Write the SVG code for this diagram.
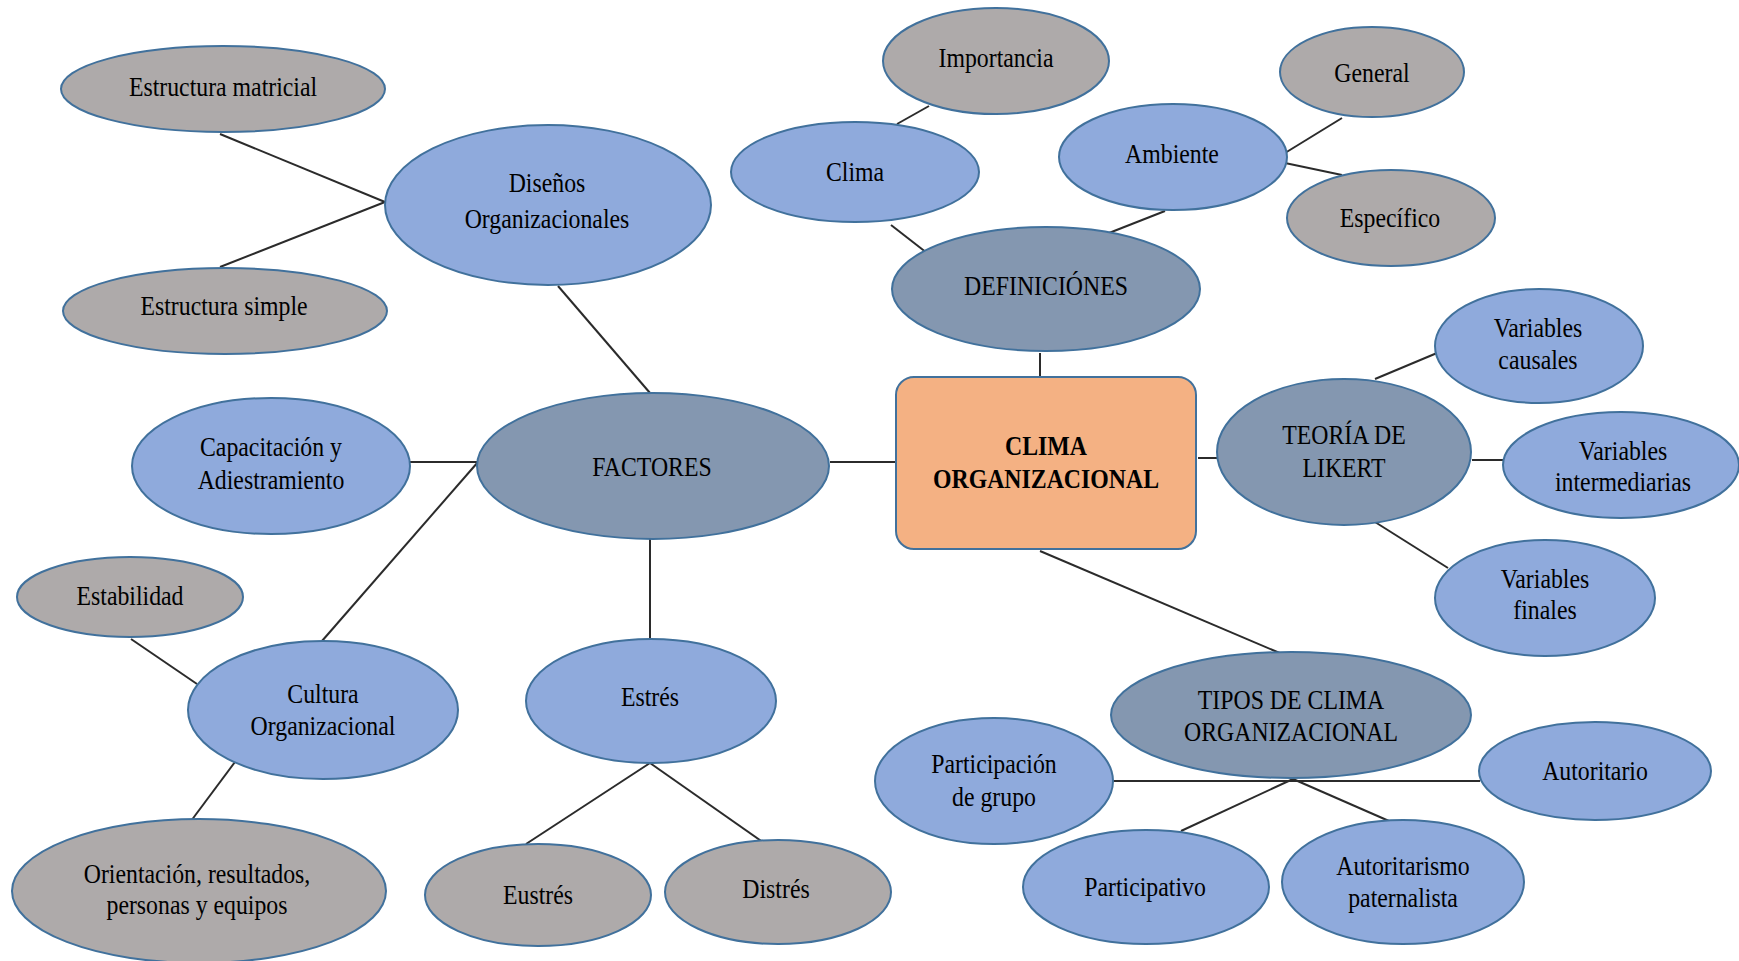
<svg xmlns="http://www.w3.org/2000/svg" width="1739" height="961" viewBox="0 0 1739 961">
<style>
.b{fill:#8FAADC;stroke:#41719C;stroke-width:2}
.g{fill:#AEAAAA;stroke:#41719C;stroke-width:2}
.d{fill:#8497B0;stroke:#41719C;stroke-width:2}
.o{fill:#F4B183;stroke:#41719C;stroke-width:2}
text{font-family:"Liberation Serif","Times New Roman",serif;font-size:28px;fill:#000;text-anchor:middle}
.bold{font-weight:bold}
#connectors line{stroke:#2b2b2b;stroke-width:2}
</style>
<rect width="1739" height="961" fill="#fff"/>
<g id="connectors">
<line x1="220" y1="134" x2="385" y2="202"/>
<line x1="220" y1="267" x2="385" y2="202"/>
<line x1="558" y1="286" x2="650" y2="393"/>
<line x1="410" y1="462" x2="478" y2="462"/>
<line x1="322" y1="641" x2="478" y2="462"/>
<line x1="830" y1="462" x2="896" y2="462"/>
<line x1="650" y1="539" x2="650" y2="639"/>
<line x1="131" y1="639" x2="197" y2="684"/>
<line x1="235" y1="762" x2="191" y2="821"/>
<line x1="650" y1="763" x2="526" y2="844"/>
<line x1="650" y1="763" x2="764" y2="843"/>
<line x1="929" y1="106" x2="897" y2="124"/>
<line x1="891" y1="225" x2="927" y2="253"/>
<line x1="1165" y1="211" x2="1109" y2="233"/>
<line x1="1285" y1="153" x2="1342" y2="118"/>
<line x1="1285" y1="163" x2="1342" y2="175"/>
<line x1="1040" y1="353" x2="1040" y2="379"/>
<line x1="1198" y1="458" x2="1218" y2="458"/>
<line x1="1375" y1="379" x2="1437" y2="353"/>
<line x1="1472" y1="460" x2="1503" y2="460"/>
<line x1="1375" y1="522" x2="1448" y2="568"/>
<line x1="1040" y1="551" x2="1282" y2="654"/>
<line x1="1112" y1="781" x2="1480" y2="781"/>
<line x1="1293" y1="779" x2="1181" y2="831"/>
<line x1="1293" y1="779" x2="1389" y2="821"/>
</g>
<g id="estructura-matricial"><ellipse class="g" cx="223" cy="89" rx="162" ry="43"/><g transform="translate(223 0) scale(0.85 1)"><text x="0" y="96">Estructura matricial</text></g></g>
<g id="disenos"><ellipse class="b" cx="548" cy="205" rx="163" ry="80"/><g transform="translate(547 0) scale(0.85 1)"><text x="0" y="192">Diseños</text><text x="0" y="228">Organizacionales</text></g></g>
<g id="estructura-simple"><ellipse class="g" cx="225" cy="311" rx="162" ry="43"/><g transform="translate(224 0) scale(0.85 1)"><text x="0" y="315">Estructura simple</text></g></g>
<g id="importancia"><ellipse class="g" cx="996" cy="61" rx="113" ry="53"/><g transform="translate(996 0) scale(0.85 1)"><text x="0" y="67">Importancia</text></g></g>
<g id="clima"><ellipse class="b" cx="855" cy="172" rx="124" ry="50"/><g transform="translate(855 0) scale(0.85 1)"><text x="0" y="181">Clima</text></g></g>
<g id="general"><ellipse class="g" cx="1372" cy="72" rx="92" ry="45"/><g transform="translate(1372 0) scale(0.85 1)"><text x="0" y="82">General</text></g></g>
<g id="ambiente"><ellipse class="b" cx="1173" cy="157" rx="114" ry="53"/><g transform="translate(1172 0) scale(0.85 1)"><text x="0" y="163">Ambiente</text></g></g>
<g id="especifico"><ellipse class="g" cx="1391" cy="218" rx="104" ry="48"/><g transform="translate(1390 0) scale(0.85 1)"><text x="0" y="227">Específico</text></g></g>
<g id="definiciones"><ellipse class="d" cx="1046" cy="289" rx="154" ry="62"/><g transform="translate(1046 0) scale(0.85 1)"><text x="0" y="295">DEFINICIÓNES</text></g></g>
<g id="variables-causales"><ellipse class="b" cx="1539" cy="346" rx="104" ry="57"/><g transform="translate(1538 0) scale(0.85 1)"><text x="0" y="337">Variables</text><text x="0" y="369">causales</text></g></g>
<g id="capacitacion"><ellipse class="b" cx="271" cy="466" rx="139" ry="68"/><g transform="translate(271 0) scale(0.85 1)"><text x="0" y="456">Capacitación y</text><text x="0" y="489">Adiestramiento</text></g></g>
<g id="factores"><ellipse class="d" cx="653" cy="466" rx="176" ry="73"/><g transform="translate(652 0) scale(0.85 1)"><text x="0" y="476">FACTORES</text></g></g>
<g id="clima-organizacional"><rect class="o" x="896" y="377" width="300" height="172" rx="18"/><g transform="translate(1046 0) scale(0.85 1)"><text class="bold" x="0" y="455">CLIMA</text><text class="bold" x="0" y="488">ORGANIZACIONAL</text></g></g>
<g id="likert"><ellipse class="d" cx="1344" cy="452" rx="127" ry="73"/><g transform="translate(1344 0) scale(0.85 1)"><text x="0" y="444">TEORÍA DE</text><text x="0" y="477">LIKERT</text></g></g>
<g id="variables-intermediarias"><ellipse class="b" cx="1621" cy="465" rx="118" ry="53"/><g transform="translate(1623 0) scale(0.85 1)"><text x="0" y="460">Variables</text><text x="0" y="491">intermediarias</text></g></g>
<g id="variables-finales"><ellipse class="b" cx="1545" cy="598" rx="110" ry="58"/><g transform="translate(1545 0) scale(0.85 1)"><text x="0" y="588">Variables</text><text x="0" y="619">finales</text></g></g>
<g id="estabilidad"><ellipse class="g" cx="130" cy="597" rx="113" ry="40"/><g transform="translate(130 0) scale(0.85 1)"><text x="0" y="605">Estabilidad</text></g></g>
<g id="cultura"><ellipse class="b" cx="323" cy="710" rx="135" ry="69"/><g transform="translate(323 0) scale(0.85 1)"><text x="0" y="703">Cultura</text><text x="0" y="735">Organizacional</text></g></g>
<g id="estres"><ellipse class="b" cx="651" cy="701" rx="125" ry="62"/><g transform="translate(650 0) scale(0.85 1)"><text x="0" y="706">Estrés</text></g></g>
<g id="tipos"><ellipse class="d" cx="1291" cy="715" rx="180" ry="63"/><g transform="translate(1291 0) scale(0.85 1)"><text x="0" y="709">TIPOS DE CLIMA</text><text x="0" y="741">ORGANIZACIONAL</text></g></g>
<g id="participacion-grupo"><ellipse class="b" cx="994" cy="781" rx="119" ry="63"/><g transform="translate(994 0) scale(0.85 1)"><text x="0" y="773">Participación</text><text x="0" y="806">de grupo</text></g></g>
<g id="autoritario"><ellipse class="b" cx="1595" cy="771" rx="116" ry="49"/><g transform="translate(1595 0) scale(0.85 1)"><text x="0" y="780">Autoritario</text></g></g>
<g id="orientacion"><ellipse class="g" cx="199" cy="891" rx="187" ry="72"/><g transform="translate(197 0) scale(0.85 1)"><text x="0" y="883">Orientación, resultados,</text><text x="0" y="914">personas y equipos</text></g></g>
<g id="eustres"><ellipse class="g" cx="538" cy="895" rx="113" ry="51"/><g transform="translate(538 0) scale(0.85 1)"><text x="0" y="904">Eustrés</text></g></g>
<g id="distres"><ellipse class="g" cx="778" cy="892" rx="113" ry="52"/><g transform="translate(776 0) scale(0.85 1)"><text x="0" y="898">Distrés</text></g></g>
<g id="participativo"><ellipse class="b" cx="1146" cy="887" rx="123" ry="57"/><g transform="translate(1145 0) scale(0.85 1)"><text x="0" y="896">Participativo</text></g></g>
<g id="autoritarismo"><ellipse class="b" cx="1403" cy="882" rx="121" ry="62"/><g transform="translate(1403 0) scale(0.85 1)"><text x="0" y="875">Autoritarismo</text><text x="0" y="907">paternalista</text></g></g>
</svg>
